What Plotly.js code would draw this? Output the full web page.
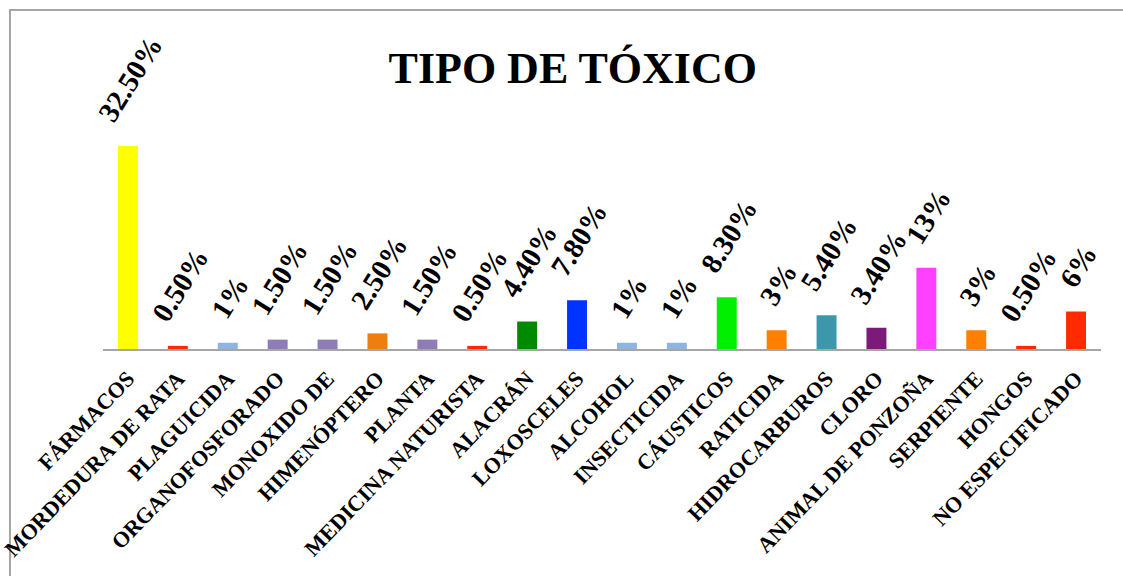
<!DOCTYPE html>
<html>
<head>
<meta charset="utf-8">
<script src="https://cdn.plot.ly/plotly-3.0.1.min.js"></script>
<style>
  html, body { margin: 0; padding: 0; background: #ffffff; }
  #frame { position: absolute; left: 9px; top: 9px; width: 1114px; height: 567px;
           border-left: 2px solid #A6A6A6; border-top: 2px solid #A6A6A6; box-sizing: border-box; }
  #chart { position: absolute; left: 0; top: 0; width: 1123px; height: 576px; }
</style>
</head>
<body>
<div id="frame"></div>
<div id="chart"></div>
<script>
const categories = ["FÁRMACOS", "MORDEDURA DE RATA", "PLAGUICIDA", "ORGANOFOSFORADO", "MONOXIDO DE",
  "HIMENÓPTERO", "PLANTA", "MEDICINA NATURISTA", "ALACRÁN", "LOXOSCELES", "ALCOHOL", "INSECTICIDA",
  "CÁUSTICOS", "RATICIDA", "HIDROCARBUROS", "CLORO", "ANIMAL DE PONZOÑA", "SERPIENTE", "HONGOS", "NO ESPECIFICADO"];
const values = [32.5, 0.5, 1, 1.5, 1.5, 2.5, 1.5, 0.5, 4.4, 7.8, 1, 1, 8.3, 3, 5.4, 3.4, 13, 3, 0.5, 6];
const valueLabels = ["32.50%", "0.50%", "1%", "1.50%", "1.50%", "2.50%", "1.50%", "0.50%", "4.40%", "7.80%",
  "1%", "1%", "8.30%", "3%", "5.40%", "3.40%", "13%", "3%", "0.50%", "6%"];
const barColors = ["#FFFF00", "#FF2A00", "#8DB4E2", "#8E7CB6", "#8E7CB6", "#EE7F0E", "#8E7CB6", "#FF2A00",
  "#008A00", "#0033FF", "#8DB4E2", "#8DB4E2", "#00F000", "#FF7F00", "#3D97AB", "#7B1A79", "#FF40FF",
  "#FF7F00", "#FF2A00", "#FF2A00"];
const chartTitle = "TIPO DE TÓXICO";

const serif = "'Liberation Serif', 'Times New Roman', serif";

const trace = {
  type: "bar",
  x: categories,
  y: values,
  marker: { color: barColors, line: { width: 0 } },
  hoverinfo: "skip"
};

const annotations = categories.map((c, i) => ({
  x: c, y: values[i], xref: "x", yref: "y",
  text: valueLabels[i], showarrow: false,
  textangle: -58, xanchor: "center", yanchor: "bottom",
  yshift: 16, xshift: 2,
  font: { family: serif, size: 29, color: "#000000", weight: "bold" }
}));

const layout = {
  width: 1123, height: 576,
  margin: { l: 103, r: 22, t: 99, b: 227, pad: 0 },
  paper_bgcolor: "rgba(0,0,0,0)",
  plot_bgcolor: "rgba(0,0,0,0)",
  showlegend: false,
  bargap: 0.6,
  title: {
    text: chartTitle, xref: "container", yref: "container",
    x: 0.51, xanchor: "center", y: 0.883, yanchor: "middle",
    font: { family: serif, size: 44, color: "#000000", weight: "bold" }
  },
  xaxis: {
    type: "category", automargin: false, autorange: false,
    range: [-0.5, categories.length - 0.5],
    showline: true, linecolor: "#A6A6A6", linewidth: 2,
    showgrid: false, zeroline: false, ticks: "",
    tickangle: -46,
    ticklabelstandoff: 6,
    tickfont: { family: serif, size: 22, color: "#000000", weight: "bold" }
  },
  yaxis: {
    range: [0, 40], autorange: false, showgrid: false, zeroline: false, showline: false,
    showticklabels: false, ticks: "", automargin: false
  },
  annotations: annotations
};

Plotly.newPlot("chart", [trace], layout, { displayModeBar: false, staticPlot: true });
</script>
</body>
</html>
